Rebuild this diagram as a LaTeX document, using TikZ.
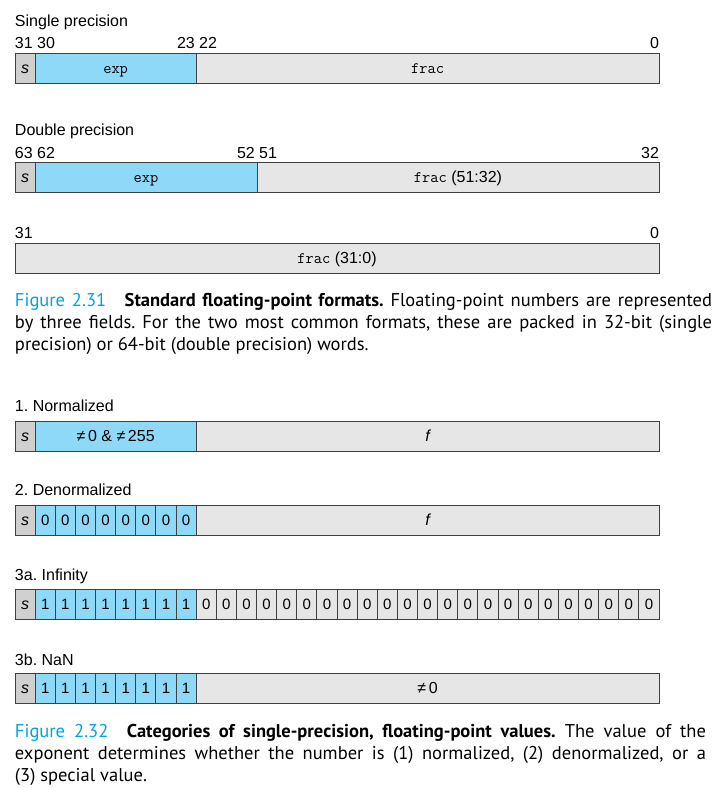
\documentclass[tikz,border=0pt]{standalone}
\usepackage{fontspec}
\setmainfont{Liberation Sans}
\newfontfamily\capfont{PT Sans}
\usetikzlibrary{positioning}
\definecolor{expblue}{RGB}{142,216,248}
\definecolor{fracgray}{RGB}{230,230,230}
\definecolor{signgray}{RGB}{208,208,208}
\definecolor{figblue}{RGB}{0,163,224}
\definecolor{edgegray}{RGB}{64,64,64}
\frenchspacing

\begin{document}
\begin{tikzpicture}[x=1pt, y=-1pt, node distance=0pt,
    every node/.style={inner sep=0pt, outer sep=0pt},
    label text/.style={anchor=base west, font=\fontsize{16}{19}\selectfont},
    field/.style={draw=edgegray, line width=0.8pt, minimum height=30pt, text height=11.5pt, text depth=1.5pt, font=\fontsize{16}{19}\selectfont},
    sign field/.style={field, fill=signgray, minimum width=20.125pt, font=\fontsize{16}{19}\selectfont\itshape},
    exp field/.style={field, fill=expblue},
    frac field/.style={field, fill=fracgray},
    bit cell/.style={field, minimum width=20.125pt, font=\fontsize{15}{18}\selectfont},
    caption text/.style={anchor=base west, align=left, font=\capfont\fontsize{18.5}{22}\selectfont}]

  \useasboundingbox (0,0) rectangle (720,788);

  % single precision
  \node[label text] (sgltitle) at (15,26) {Single precision};
  \node[label text] (sgl31) at (15,48) {31 30};
  \node[label text] (sgl23) at (177,48) {23 22};
  \node[label text, anchor=base east] (sgl0) at (659,48) {0};
  \node[sign field, anchor=north west] (sgls) at (15,53) {s};
  \node[exp field, minimum width=161pt, right=0pt of sgls] (sglexp) {\ttfamily exp};
  \node[frac field, minimum width=462.875pt, right=0pt of sglexp] (sglfrac) {\ttfamily frac};

  % double precision
  \node[label text] (dbltitle) at (15,135) {Double precision};
  \node[label text] (dbl63) at (15,158) {63 62};
  \node[label text] (dbl52) at (237,158) {52 51};
  \node[label text, anchor=base east] (dbl32) at (659,158) {32};
  \node[sign field, anchor=north west] (dbls) at (15,162.5) {s};
  \node[exp field, minimum width=221.875pt, right=0pt of dbls] (dblexp) {\ttfamily exp};
  \node[frac field, minimum width=402pt, right=0pt of dblexp] (dblfrac) {{\ttfamily frac} (51:32)};

  \node[label text] (low31) at (15,238) {31};
  \node[label text, anchor=base east] (low0) at (659,238) {0};
  \node[frac field, minimum width=644pt, anchor=north west] (lowfrac) at (15,243.5) {{\ttfamily frac} (31:0)};

  \node[caption text] (cap1) at (15,350) {%
    \makebox[697pt][s]{{\color{figblue}Figure 2.31}\quad\textbf{Standard floating-point formats.} Floating-point numbers are represented}\\
    \makebox[697pt][s]{by three fields. For the two most common formats, these are packed in 32-bit (single}\\
    precision) or 64-bit (double precision) words.};

  % normalized
  \node[label text] (nortitle) at (15,411) {1. Normalized};
  \node[sign field, anchor=north west] (nors) at (15,421) {s};
  \node[exp field, minimum width=161pt, right=0pt of nors] (norexp) {≠\,0 \& ≠\,255};
  \node[frac field, minimum width=462.875pt, right=0pt of norexp] (norfrac) {\itshape f};

  % denormalized
  \node[label text] (dentitle) at (15,495) {2. Denormalized};
  \node[sign field, anchor=north west] (den0) at (15,505) {s};
  \foreach \i [count=\j from 0] in {1,...,8}
    \node[bit cell, fill=expblue, right=0pt of den\j] (den\i) {0};
  \node[frac field, minimum width=462.875pt, right=0pt of den8] (denfrac) {\itshape f};

  % infinity
  \node[label text] (inftitle) at (15,580) {3a. Infinity};
  \node[sign field, anchor=north west] (inf0) at (15,589.5) {s};
  \foreach \i [count=\j from 0] in {1,...,8}
    \node[bit cell, fill=expblue, right=0pt of inf\j] (inf\i) {1};
  \foreach \i [count=\j from 8] in {9,...,31}
    \node[bit cell, fill=fracgray, right=0pt of inf\j] (inf\i) {0};

  % nan
  \node[label text] (nantitle) at (15,665) {3b. NaN};
  \node[sign field, anchor=north west] (nan0) at (15,673.5) {s};
  \foreach \i [count=\j from 0] in {1,...,8}
    \node[bit cell, fill=expblue, right=0pt of nan\j] (nan\i) {1};
  \node[frac field, minimum width=462.875pt, right=0pt of nan8] (nanfrac) {≠\,0};

  \node[caption text] (cap2) at (15,781) {%
    \makebox[691pt][s]{{\color{figblue}Figure 2.32}\quad\textbf{Categories of single-precision, floating-point values.} The value of the}\\
    \makebox[691pt][s]{exponent determines whether the number is (1) normalized, (2) denormalized, or a}\\
    (3) special value.};

\end{tikzpicture}
\end{document}
